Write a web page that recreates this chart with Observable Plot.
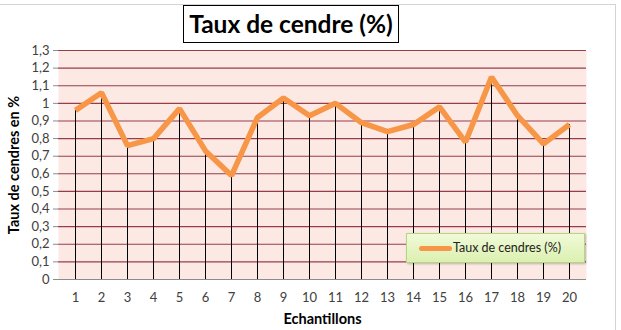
<!DOCTYPE html>
<html>
<head>
<meta charset="utf-8">
<script src="https://cdn.jsdelivr.net/npm/d3@7"></script>
<script src="https://cdn.jsdelivr.net/npm/@observablehq/plot@0.6"></script>
<style>
  html, body { margin: 0; padding: 0; background: #fff; }
  #wrap { position: relative; width: 621px; height: 330px; overflow: hidden; font-family: Lato, "Open Sans", sans-serif; }
  #border { position: absolute; left: -2px; top: 4px; width: 618px; height: 340px; border-top: 1px solid #d4d4d4; border-right: 1px solid #d4d4d4; box-sizing: border-box; }
  #title { position: absolute; left: 183px; top: 5px; width: 216px; height: 38px; border: 1.5px solid #000; box-sizing: border-box; background: #fff;
           font-weight: bold; font-size: 24.5px; line-height: 35px; text-align: center; color: #000; white-space: nowrap; }
  #legend { position: absolute; left: 406px; top: 233px; width: 179px; height: 30px; box-sizing: border-box; border: 1px solid #b3d67e;
            background: linear-gradient(#f0fad8, #dcf0b0); box-shadow: 1px 1px 2px rgba(0,0,0,0.25); font-size: 12.5px; color: #222; }
  #legend .sw { position: absolute; left: 12px; top: 12px; width: 33px; height: 5px; background: #f79646; border-radius: 3px; }
  #legend .tx { position: absolute; left: 46px; top: 6px; white-space: nowrap; }
  svg { position: absolute; left: 0; top: 0; }
</style>
</head>
<body>
<div id="wrap"></div>
<script>
const samples = [1,2,3,4,5,6,7,8,9,10,11,12,13,14,15,16,17,18,19,20];
const ashValues = [0.96,1.06,0.76,0.80,0.97,0.73,0.59,0.92,1.03,0.93,1.00,0.89,0.84,0.88,0.98,0.78,1.15,0.93,0.77,0.88];
const yTicks = [0,0.1,0.2,0.3,0.4,0.5,0.6,0.7,0.8,0.9,1,1.1,1.2,1.3];
const titleText = "Taux de cendre (%)";
const seriesName = "Taux de cendres (%)";
const xLabel = "Echantillons";
const yLabel = "Taux de cendres en %";

const data = samples.map((s, i) => ({sample: s, value: ashValues[i]}));
const fmt = d => String(Math.round(d * 10) / 10).replace(".", ",");

const chart = Plot.plot({
  width: 621,
  height: 330,
  marginLeft: 58,
  marginRight: 35,
  marginTop: 50,
  marginBottom: 51,
  style: {fontFamily: "Lato, 'Open Sans', sans-serif", fontSize: "13px", color: "#404040", background: "transparent", overflow: "visible"},
  x: {type: "point", domain: samples, padding: 0.5, label: null},
  y: {domain: [0, 1.3], label: null},
  marks: [
    Plot.frame({fill: "#fde9e3", stroke: null}),
    Plot.ruleY(yTicks.filter(d => d > 0), {stroke: "#8b2a3a", strokeWidth: 1.1, strokeOpacity: 0.9}),
    Plot.ruleX(data, {x: "sample", y1: 0, y2: "value", stroke: "#000", strokeWidth: 1}),
    Plot.ruleY([0], {stroke: "#8c8c8c", strokeWidth: 1}),
    Plot.axisY({ticks: yTicks, tickFormat: fmt, tickSize: 5, tickPadding: 4, stroke: "#8c8c8c", fill: "#404040", fontSize: 13}),
    Plot.axisX({tickSize: 0, tickPadding: 13, fill: "#404040", fontSize: 13}),
    Plot.line(data, {x: "sample", y: "value", stroke: "#f79646", strokeWidth: 5.5, strokeLinejoin: "miter", strokeLinecap: "butt"}),
    Plot.text([xLabel], {frameAnchor: "bottom", dy: 44, fontWeight: "bold", fontSize: 14.5, fill: "#000"}),
    Plot.text([yLabel], {frameAnchor: "left", textAnchor: "middle", dx: -44, rotate: -90, fontWeight: "bold", fontSize: 14.5, fill: "#000"})
  ]
});

const wrap = document.getElementById("wrap");
const border = document.createElement("div");
border.id = "border";
wrap.appendChild(border);
wrap.appendChild(chart);
const title = document.createElement("div");
title.id = "title";
title.textContent = titleText;
wrap.appendChild(title);
const legend = document.createElement("div");
legend.id = "legend";
legend.innerHTML = '<div class="sw"></div><div class="tx"></div>';
legend.querySelector(".tx").textContent = seriesName;
wrap.appendChild(legend);
</script>
</body>
</html>
